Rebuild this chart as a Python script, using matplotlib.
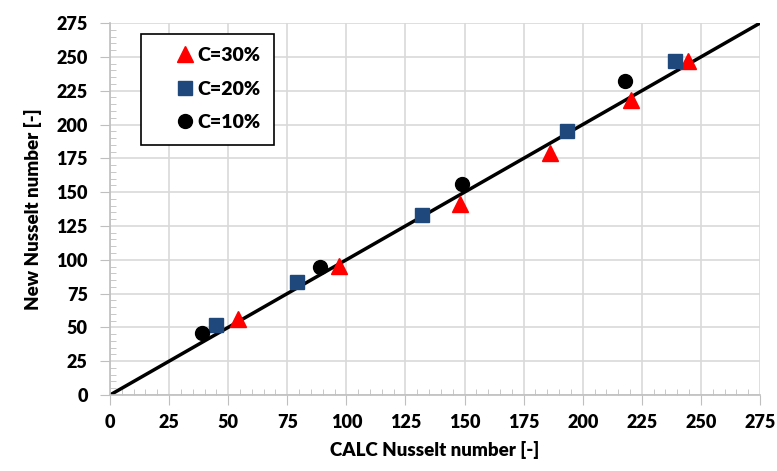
import numpy as np
import matplotlib.pyplot as plt
from matplotlib.ticker import MultipleLocator

plt.rcParams['font.family'] = ['Lato', 'DejaVu Sans']
plt.rcParams['font.weight'] = 'heavy'

# Dados
calc_30 = [54, 97, 148, 186, 220.5, 244.5]
new_30 = [56, 95.5, 141, 179, 218, 247]

calc_20 = [45, 79, 132, 193.5, 239]
new_20 = [51.5, 83.5, 133, 195.5, 247]

calc_10 = [39, 89, 149, 218]
new_10 = [45.5, 94.5, 156, 232]

linha = [0, 275]

fig = plt.figure(figsize=(7.77, 4.71), dpi=100)
ax = fig.add_axes([0.1416, 0.1614, 0.8365, 0.7895])

ax.plot(linha, linha, color='black', lw=2.5, zorder=2)
ax.plot(calc_30, new_30, '^', color='#ff0000', ms=11, label='C=30%', zorder=3)
ax.plot(calc_20, new_20, 's', color='#1f497d', ms=10, label='C=20%', zorder=3)
ax.plot(calc_10, new_10, 'o', color='black', ms=10, label='C=10%', zorder=3)

ax.set_xlim(0, 275)
ax.set_ylim(0, 275)
ax.xaxis.set_major_locator(MultipleLocator(25))
ax.yaxis.set_major_locator(MultipleLocator(25))
ax.xaxis.set_minor_locator(MultipleLocator(5))
ax.yaxis.set_minor_locator(MultipleLocator(5))

ax.grid(which='major', color='#d9d9d9', lw=1.2)
ax.set_axisbelow(True)
for s in ['top', 'right']:
    ax.spines[s].set_visible(False)
for s in ['left', 'bottom']:
    ax.spines[s].set_color('#bfbfbf')
    ax.spines[s].set_linewidth(1.2)

ax.tick_params(which='major', direction='out', length=7, color='#bfbfbf', labelsize=13)
ax.tick_params(axis='y', which='major', pad=9)
ax.tick_params(axis='x', which='major', pad=7)
ax.tick_params(which='minor', direction='in', length=4, color='#bfbfbf')

ax.set_xlabel('CALC Nusselt number [-]', fontsize=13.5, fontweight='heavy', labelpad=7)
ax.set_ylabel('New Nusselt number [-]', fontsize=13.5, fontweight='heavy', labelpad=10)

leg = ax.legend(loc='upper left', bbox_to_anchor=(0.048, 0.972), fontsize=14,
                fancybox=False, edgecolor='black', framealpha=1, borderpad=0.7,
                labelspacing=0.85, handletextpad=-0.9, handlelength=3.1, borderaxespad=0)
leg.get_frame().set_linewidth(1.2)

plt.savefig('out.png', dpi=100)
